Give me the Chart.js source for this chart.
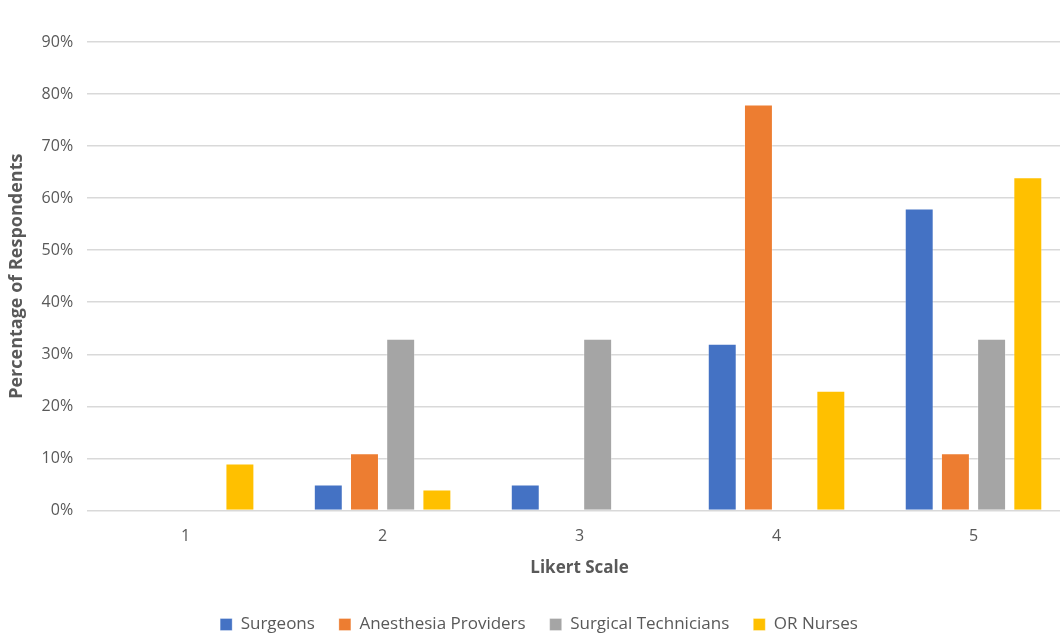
<!DOCTYPE html>
<html>
<head>
<meta charset="utf-8">
<script src="https://cdn.jsdelivr.net/npm/chart.js@4"></script>
<style>
  html, body { margin: 0; padding: 0; background: #fff; overflow: hidden; }
  /* canvas is a bit wider than the view: the original is cropped on the right */
  .wrap { width: 1060px; height: 635px; position: relative; overflow: hidden; }
</style>
</head>
<body>
<div class="wrap"><canvas id="likertChart" width="1072" height="635"></canvas></div>
<script>
// ── Data ───────────────────────────────────────────────────
const likert      = ['1', '2', '3', '4', '5'];
const surgeons    = [0, 5, 5, 32, 58];
const anesthesia  = [0, 11, 0, 78, 11];
const technicians = [0, 33, 33, 0, 33];
const orNurses    = [9, 4, 0, 23, 64];
const yTicks      = [0, 10, 20, 30, 40, 50, 60, 70, 80, 90];

const font = 'Open Sans';
const textGray = '#595959';

function bar(label, data, color) {
  return { label, data, backgroundColor: color, borderColor: 'rgba(255,255,255,0.3)', borderWidth: 1,
           barPercentage: 0.8, categoryPercentage: 0.735 };
}

new Chart(document.getElementById('likertChart'), {
  type: 'bar',
  data: {
    labels: likert,
    datasets: [
      bar('Surgeons', surgeons, '#4472C4'),
      bar('Anesthesia Providers', anesthesia, '#ED7D31'),
      bar('Surgical Technicians', technicians, '#A5A5A5'),
      bar('OR Nurses', orNurses, '#FFC000')
    ]
  },
  options: {
    responsive: false,
    animation: false,
    layout: { padding: { left: 6, right: 0, top: 42, bottom: -8 } },
    plugins: {
      tooltip: { enabled: false },
      legend: {
        position: 'bottom',
        labels: {
          font: { family: font, size: 17 },
          color: textGray,
          boxWidth: 12, boxHeight: 12,
          padding: 24
        }
      }
    },
    scales: {
      x: {
        grid: { display: false },
        border: { display: false },
        ticks: { font: { family: font, size: 16 }, color: textGray, padding: 8 },
        title: { display: true, text: 'Likert Scale', font: { family: font, size: 17, weight: 'bold' }, color: textGray,
                 padding: { top: 4, bottom: 14 } }
      },
      y: {
        min: 0, max: 90,
        afterBuildTicks: axis => { axis.ticks = yTicks.map(v => ({ value: v })); },
        grid: { color: '#D9D9D9', lineWidth: 1.5, drawTicks: false },
        border: { display: false },
        ticks: { font: { family: font, size: 16 }, color: textGray, padding: 14, callback: v => v + '%' },
        title: { display: true, text: 'Percentage of Respondents', font: { family: font, size: 18, weight: 'bold' }, color: textGray,
                 padding: { top: 0, bottom: 0 } }
      }
    }
  }
});
</script>
</body>
</html>
